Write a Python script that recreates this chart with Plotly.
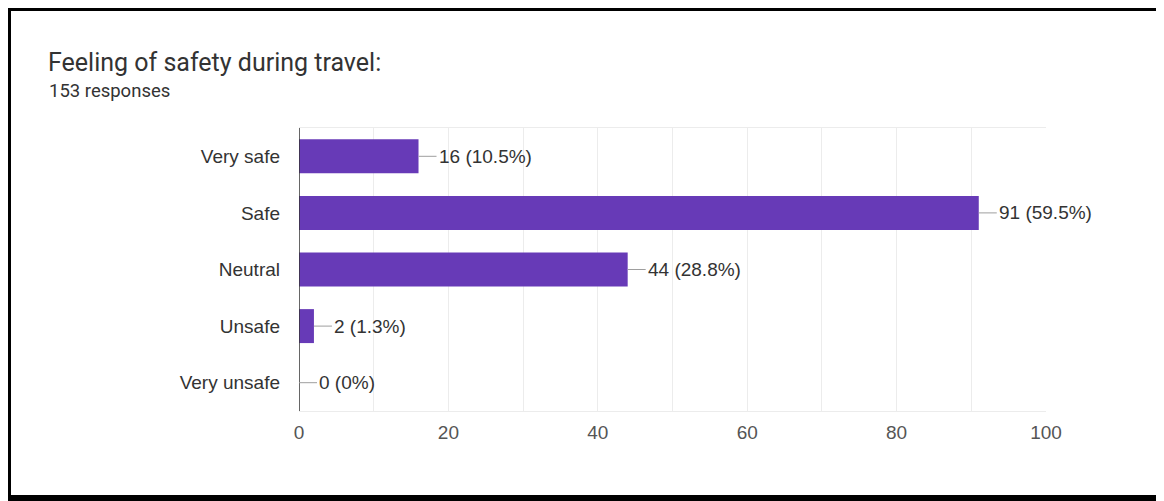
import plotly.graph_objects as go

categories = ["Very safe", "Safe", "Neutral", "Unsafe", "Very unsafe"]
counts = [16, 91, 44, 2, 0]
total_responses = 153
title_text = "Feeling of safety during travel:"
subtitle_text = f"{total_responses} responses"
x_tick_vals = [0, 20, 40, 60, 80, 100]

# page body has an 8px margin; work in window pixels and convert
OFF = 8
WIN_W, WIN_H = 1164, 501
W, H = WIN_W - OFF, WIN_H - OFF
PLOT_L, PLOT_R, PLOT_T, PLOT_B = 299, 1046, 128, 411  # window px
L, R, T, B = PLOT_L - OFF, W - (PLOT_R - OFF), PLOT_T - OFF, H - (PLOT_B - OFF)
PW, PH = W - L - R, H - T - B

def px_x(px):
    return (px - OFF - L) / PW

def px_y(py):
    return (H - B - (py - OFF)) / PH

def pct(c):
    p = c / total_responses * 100
    s = f"{p:.1f}"
    if s.endswith(".0"):
        s = s[:-2]
    return s

fig = go.Figure(go.Bar(
    x=counts, y=categories, orientation="h",
    marker=dict(color="#673AB7", line=dict(width=0)),
    width=0.6, hoverinfo="skip",
))

annotations = []
for c, cat in zip(counts, categories):
    annotations.append(dict(
        x=c, y=cat, xref="x", yref="y",
        text=f"{c} ({pct(c)}%)", showarrow=True, arrowhead=0,
        arrowwidth=1, arrowcolor="#9e9e9e", ax=18, ay=0,
        xanchor="left", yanchor="middle",
        font=dict(family="Liberation Sans, Arial", size=19, color="#333333"),
    ))

annotations.append(dict(
    text=title_text, xref="paper", yref="paper",
    x=px_x(46), y=px_y(46), xanchor="left", yanchor="top", showarrow=False,
    font=dict(family="Roboto", size=25, color="#333333"),
))
annotations.append(dict(
    text=subtitle_text, xref="paper", yref="paper",
    x=px_x(47), y=px_y(78), xanchor="left", yanchor="top", showarrow=False,
    font=dict(family="Roboto", size=18.5, color="#333333"),
))

def rect(x0, y0, x1, y1):
    return dict(type="rect", xref="paper", yref="paper", layer="above",
                x0=px_x(x0), x1=px_x(x1), y0=px_y(y0), y1=px_y(y1),
                fillcolor="black", line=dict(width=0))

shapes = [
    rect(3, 3, 1164, 11),
    rect(3, 3, 11, 501),
    rect(3, 495, 1164, 501),
    rect(1161, 3, 1164, 501),
]

fig.update_layout(
    width=W, height=H,
    margin=dict(l=L, r=R, t=T, b=B),
    paper_bgcolor="white", plot_bgcolor="white",
    showlegend=False,
    annotations=annotations,
    shapes=shapes,
    xaxis=dict(
        range=[0, 100], tickvals=x_tick_vals,
        showgrid=True, gridcolor="#ececec", gridwidth=1,
        minor=dict(dtick=10, showgrid=True, gridcolor="#ececec", gridwidth=1),
        showline=True, linecolor="#ececec", mirror=True, linewidth=1,
        zeroline=False, ticks="", ticklabelstandoff=4,
        tickfont=dict(family="Liberation Sans, Arial", size=19, color="#555555"),
        fixedrange=True,
    ),
    yaxis=dict(
        categoryorder="array", categoryarray=categories[::-1],
        range=[-0.5, 4.5], showgrid=False, zeroline=False,
        showline=False, ticks="", ticklabelstandoff=18,
        tickfont=dict(family="Liberation Sans, Arial", size=19, color="#333333"),
        fixedrange=True,
    ),
)
fig.add_shape(type="line", xref="x", yref="paper", x0=0, x1=0, y0=0, y1=1,
              line=dict(color="#333333", width=1.5), layer="above")

fig.write_html("out.html")
